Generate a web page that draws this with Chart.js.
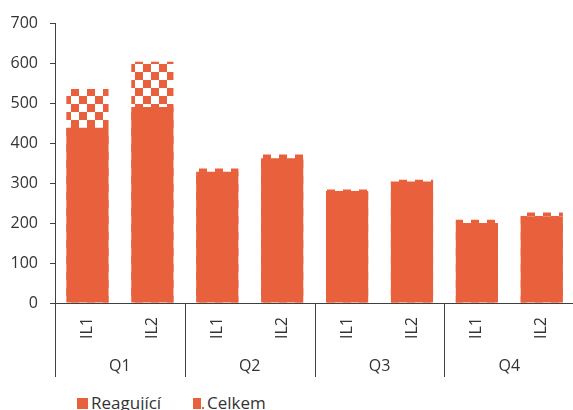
<!DOCTYPE html>
<html>
<head>
<meta charset="utf-8">
<script src="https://cdn.jsdelivr.net/npm/chart.js@4.4.0/dist/chart.umd.min.js"></script>
<style>
  html, body { margin: 0; padding: 0; overflow: hidden; background: #fff; }
  #wrap { position: relative; width: 575px; height: 385px; }
  #legend { position: absolute; left: 0; top: 395px; width: 575px; height: 20px;
            font: 17px "Open Sans", sans-serif; color: #333; }
  #legend .item { position: absolute; top: 0; display: flex; align-items: center; line-height: 16px; }
  #legend .box { width: 11px; height: 11px; margin-right: 3px; }
  #legend .solid { background: #e9603d; }
  #legend .checked {
    background:
      linear-gradient(#e9603d, #e9603d) 0 0 / 8px 11px no-repeat,
      linear-gradient(#e9603d, #e9603d) 9px 9px / 2px 2px no-repeat,
      #fff;
  }
</style>
</head>
<body>
<div id="wrap"><canvas id="chart"></canvas></div>
<div id="legend">
  <div class="item" style="left:77px"><span class="box solid"></span>Reagující</div>
  <div class="item" style="left:193px"><span class="box checked"></span>Celkem</div>
</div>
<script>
const periods = ['IL1', 'IL2', 'IL1', 'IL2', 'IL1', 'IL2', 'IL1', 'IL2'];
const quarters = ['Q1', 'Q2', 'Q3', 'Q4'];
const reagujici = [438, 490, 328, 362, 280, 304, 200, 217];
const celkem = [535, 603, 336, 371, 284, 308, 208, 226];
const yMax = 700;
const yStep = 100;

const orange = '#e9603d';
const axisColor = '#404040';
const textColor = '#333';
const font = { family: '"Open Sans", sans-serif', size: 16 };

// 8px checkerboard, phase fixed to the canvas origin
function checker(color) {
  const c = document.createElement('canvas');
  c.width = 16;
  c.height = 16;
  const g = c.getContext('2d');
  g.fillStyle = color;
  g.fillRect(7, 8, 8, 8);
  g.fillRect(15, 0, 1, 8);
  g.fillRect(0, 0, 7, 8);
  return g.createPattern(c, 'repeat');
}

// vertical separators between the quarter groups under the x axis
const groupLines = {
  id: 'groupLines',
  afterDraw(chart) {
    const { ctx, chartArea } = chart;
    const step = chartArea.width / quarters.length;
    ctx.save();
    ctx.strokeStyle = axisColor;
    ctx.lineWidth = 1;
    ctx.beginPath();
    for (let i = 0; i <= quarters.length; i++) {
      const x = Math.round(chartArea.left + i * step) + 0.5;
      ctx.moveTo(x, chartArea.bottom);
      ctx.lineTo(x, chartArea.bottom + 74);
    }
    ctx.stroke();
    ctx.restore();
  }
};

const ctx = document.getElementById('chart').getContext('2d');
new Chart(ctx, {
  type: 'bar',
  data: {
    labels: periods,
    datasets: [
      {
        label: 'Reagující',
        data: reagujici,
        backgroundColor: orange,
        barPercentage: 0.65,
        categoryPercentage: 1
      },
      {
        label: 'Celkem',
        data: celkem,
        backgroundColor: checker(orange),
        barPercentage: 0.65,
        categoryPercentage: 1
      }
    ]
  },
  options: {
    responsive: true,
    maintainAspectRatio: false,
    animation: false,
    layout: { padding: { top: 23, right: 0, bottom: 0, left: 0 } },
    datasets: { bar: { grouped: false } },
    plugins: {
      legend: { display: false },
      tooltip: { enabled: false }
    },
    scales: {
      x: {
        grid: { display: true, drawOnChartArea: false, drawTicks: false },
        border: { display: true, color: axisColor },
        ticks: {
          color: textColor, font, padding: 14,
          minRotation: 90, maxRotation: 90, autoSkip: false
        },
        afterFit(s) { s.height = 43; }
      },
      x2: {
        type: 'category',
        labels: quarters,
        position: 'bottom',
        offset: true,
        grid: { display: false },
        border: { display: false },
        ticks: { color: textColor, font, padding: 3 },
        afterFit(s) { s.height = 39; }
      },
      y: {
        min: 0,
        max: yMax,
        grid: { drawOnChartArea: false, drawTicks: true, tickLength: 5, color: axisColor },
        border: { display: true, color: axisColor },
        ticks: { stepSize: yStep, color: textColor, font, padding: 12 },
        afterFit(s) { s.width = 55; }
      }
    }
  },
  plugins: [groupLines]
});
</script>
</body>
</html>
